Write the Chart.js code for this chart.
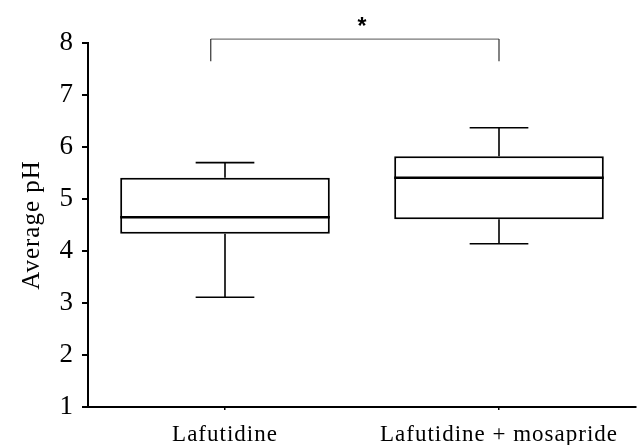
<!DOCTYPE html>
<html>
<head>
<meta charset="utf-8">
<script src="https://cdn.jsdelivr.net/npm/chart.js@4/dist/chart.umd.min.js"></script>
<style>
html,body{margin:0;padding:0;background:#fff;}
#wrap{width:642px;height:445px;}
</style>
</head>
<body>
<div id="wrap"><canvas id="chartPh"></canvas></div>
<script>
// groups and box plot values (pH)
const groups=["Lafutidine","Lafutidine + mosapride"];
const whiskerLow=[3.11,4.14];
const q1=[4.33,4.61];
const median=[4.65,5.41];
const q3=[5.41,5.82];
const whiskerHigh=[5.70,6.37];
const yMin=1,yMax=8;
const starText="*";

Chart.defaults.font.family="Liberation Serif";
Chart.defaults.color="#000";

// spaced lettering like the original figure
const spacing={
id:"spacing",
beforeInit(chart){chart.ctx.letterSpacing="1px";},
beforeDraw(chart){chart.ctx.letterSpacing="1px";}
};

// whiskers behind the boxes, median on top
const boxParts={
id:"boxParts",
beforeDatasetsDraw(chart){
const ctx=chart.ctx,ys=chart.scales.y;
const bars=chart.getDatasetMeta(0).data;
ctx.save();
ctx.strokeStyle="#000";
ctx.lineWidth=1.6;
bars.forEach((b,i)=>{
let cap=b.width*0.28;
let top=ys.getPixelForValue(whiskerHigh[i]);
let bot=ys.getPixelForValue(whiskerLow[i]);
ctx.beginPath();
ctx.moveTo(b.x,ys.getPixelForValue(q3[i]));
ctx.lineTo(b.x,top);
ctx.moveTo(b.x-cap/2,top);
ctx.lineTo(b.x+cap/2,top);
ctx.moveTo(b.x,ys.getPixelForValue(q1[i]));
ctx.lineTo(b.x,bot);
ctx.moveTo(b.x-cap/2,bot);
ctx.lineTo(b.x+cap/2,bot);
ctx.stroke();
});
ctx.restore();
},
afterDatasetsDraw(chart){
const ctx=chart.ctx,ys=chart.scales.y;
const bars=chart.getDatasetMeta(0).data;
ctx.save();
ctx.strokeStyle="#000";
ctx.lineWidth=2.4;
bars.forEach((b,i)=>{
let y=ys.getPixelForValue(median[i]);
ctx.beginPath();
ctx.moveTo(b.x-b.width/2,y);
ctx.lineTo(b.x+b.width/2,y);
ctx.stroke();
});
ctx.restore();
}
};

// significance bracket
const bracket={
id:"bracket",
afterDraw(chart){
const ctx=chart.ctx,xs=chart.scales.x,ys=chart.scales.y;
let step=xs.getPixelForValue(1)-xs.getPixelForValue(0);
let x0=xs.getPixelForValue(0)-step*0.052;
let x1=xs.getPixelForValue(1);
let yTop=ys.getPixelForValue(8.075);
let yLeg=ys.getPixelForValue(7.65);
ctx.save();
ctx.lineWidth=1.2;
ctx.strokeStyle="#777";
ctx.beginPath();
ctx.moveTo(x0,yTop);
ctx.lineTo(x1,yTop);
ctx.stroke();
ctx.strokeStyle="#333";
ctx.beginPath();
ctx.moveTo(x0,yTop);
ctx.lineTo(x0,yLeg);
ctx.moveTo(x1,yTop);
ctx.lineTo(x1,yLeg);
ctx.stroke();
ctx.letterSpacing="0px";
ctx.fillStyle="#000";
ctx.font="bold 23px Liberation Sans";
ctx.textAlign="center";
ctx.textBaseline="alphabetic";
ctx.fillText(starText,(x0+x1)/2+7,yTop-5);
ctx.restore();
}
};

new Chart(document.getElementById("chartPh"),{
type:"bar",
data:{
labels:groups,
datasets:[{
data:q1.map((v,i)=>[v,q3[i]]),
backgroundColor:"#fff",
borderColor:"#000",
borderWidth:2,
borderSkipped:false,
barPercentage:0.765,
categoryPercentage:1
}]
},
options:{
responsive:true,
maintainAspectRatio:false,
animation:false,
layout:{padding:{top:43,right:6,bottom:0,left:0}},
plugins:{legend:{display:false},tooltip:{enabled:false}},
scales:{
x:{
offset:true,
grid:{drawOnChartArea:false,offset:false,tickLength:3,color:"#000",lineWidth:1.5},
border:{color:"#000",width:2},
ticks:{font:{size:23},padding:11,maxRotation:0},
afterFit(s){s.height=38;}
},
y:{
min:yMin,
max:yMax,
grid:{drawOnChartArea:false,tickLength:6,color:"#000",lineWidth:2},
border:{color:"#000",width:2},
ticks:{stepSize:1,font:{size:27},padding:8},
title:{display:true,text:"Average pH",font:{size:25},padding:{top:17,bottom:0}},
afterFit(s){s.width=88;}
}
}
},
plugins:[spacing,boxParts,bracket]
});
</script>
</body>
</html>
